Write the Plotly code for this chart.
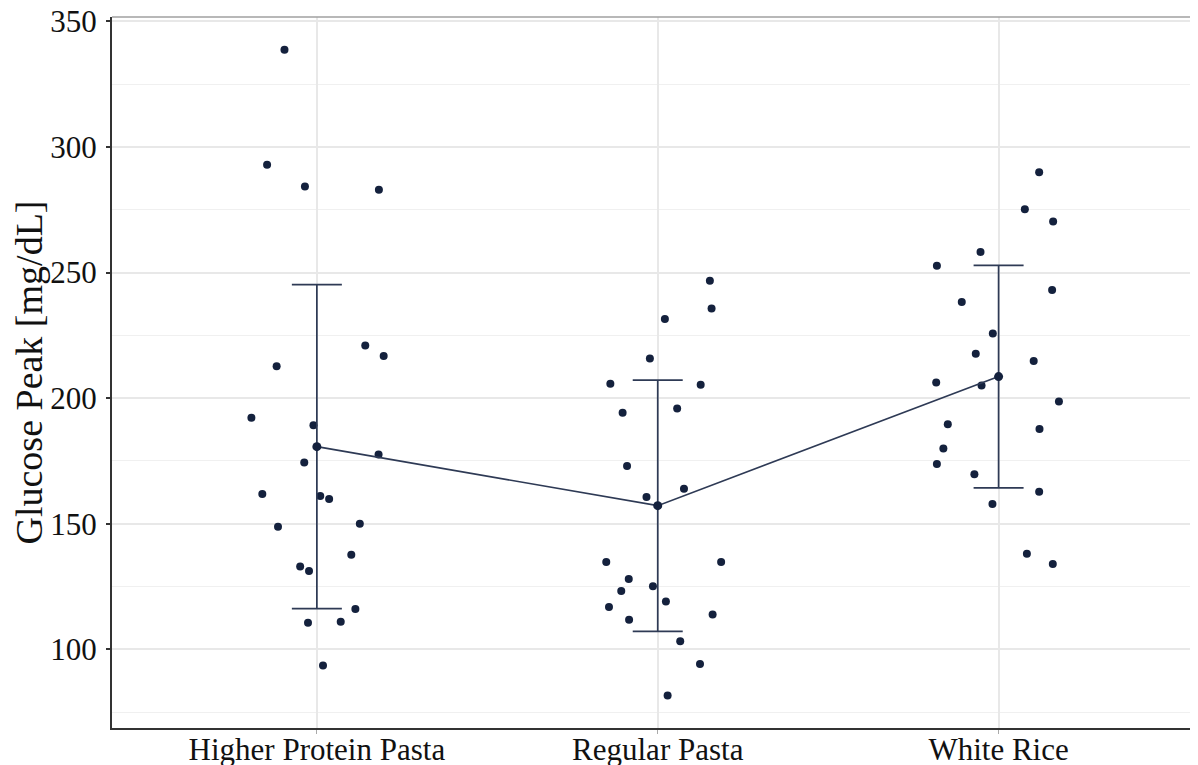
import plotly.graph_objects as go

categories = ["Higher Protein Pasta", "Regular Pasta", "White Rice"]

hpp_values = [338.7, 292.9, 284.3, 283.0, 221.0, 216.8, 212.7, 192.2, 189.2, 177.6, 174.4, 161.9,
              161.1, 159.9, 150.0, 148.8, 137.7, 133.0, 131.2, 116.1, 110.6, 111.0, 93.6]
hpp_jitter = [-0.095, -0.146, -0.035, 0.182, 0.142, 0.196, -0.118, -0.192, -0.010, 0.181, -0.037, -0.160,
              0.010, 0.036, 0.126, -0.114, 0.101, -0.049, -0.023, 0.113, -0.026, 0.070, 0.018]

rp_values = [246.8, 235.7, 231.5, 215.8, 205.7, 205.3, 194.2, 195.9, 173.0, 160.7, 163.9, 134.8,
             134.8, 128.0, 123.2, 125.1, 116.9, 119.1, 111.8, 113.9, 103.2, 94.2, 81.6]
rp_jitter = [0.153, 0.158, 0.021, -0.023, -0.139, 0.126, -0.103, 0.057, -0.090, -0.033, 0.077, -0.151,
             0.186, -0.085, -0.107, -0.014, -0.143, 0.024, -0.084, 0.161, 0.066, 0.124, 0.029]

wr_values = [289.9, 275.2, 270.3, 258.2, 252.7, 243.1, 238.3, 225.8, 217.7, 214.8, 206.2, 205.0,
             198.7, 189.6, 187.7, 180.0, 173.8, 169.7, 162.8, 157.9, 138.1, 134.0]
wr_jitter = [0.119, 0.077, 0.160, -0.053, -0.181, 0.157, -0.108, -0.017, -0.067, 0.103, -0.183, -0.050,
             0.177, -0.149, 0.120, -0.162, -0.181, -0.071, 0.119, -0.018, 0.083, 0.159]

means = [180.7, 157.2, 208.6]
sds = [64.5, 50.0, 44.3]

point_color = "#14213d"
line_color = "#2e3a55"
font_family = "Liberation Serif, Times New Roman, serif"

fig = go.Figure()

groups = [(hpp_values, hpp_jitter), (rp_values, rp_jitter), (wr_values, wr_jitter)]
for i, (vals, jit) in enumerate(groups):
    fig.add_trace(go.Scatter(
        x=[i + j for j in jit], y=vals, mode="markers",
        marker=dict(color=point_color, size=8),
        showlegend=False, hoverinfo="y"))

fig.add_trace(go.Scatter(
    x=list(range(len(categories))), y=means, mode="lines+markers",
    line=dict(color=line_color, width=1.7),
    marker=dict(color=point_color, size=9),
    error_y=dict(type="data", array=sds, visible=True, color=line_color,
                 thickness=1.7, width=25),
    showlegend=False))

fig.update_layout(
    width=1190, height=757,
    margin=dict(l=104, r=0, t=9, b=37),
    paper_bgcolor="white", plot_bgcolor="white",
    font=dict(family=font_family, color="#111111"),
    xaxis=dict(
        range=[-0.601, 2.585], tickvals=[0, 1, 2], ticktext=categories,
        showgrid=True, gridcolor="#e8e8e8", gridwidth=1.6,
        showline=True, linecolor="#333333", linewidth=2,
        ticks="outside", ticklen=4, tickcolor="#aaaaaa", tickwidth=1.2,
        ticklabelstandoff=-11, ticklabeloverflow="allow",
        tickfont=dict(size=31, family=font_family, color="#111111"),
        zeroline=False, automargin=False),
    yaxis=dict(
        range=[68.7, 351.75], tick0=100, dtick=50,
        showgrid=True, gridcolor="#e8e8e8", gridwidth=1.6,
        minor=dict(tick0=75, dtick=50, showgrid=True, gridcolor="#f0f0f0", gridwidth=1.2),
        showline=True, linecolor="#333333", linewidth=2,
        ticks="outside", ticklen=4, tickcolor="#333333", tickwidth=1.5,
        ticklabelstandoff=3, ticklabeloverflow="allow",
        tickfont=dict(size=31, family=font_family, color="#111111"),
        title=dict(text="Glucose Peak [mg/dL]", font=dict(size=38, family=font_family, color="#111111"),
                   standoff=8),
        zeroline=False, automargin=False),
    shapes=[dict(type="line", xref="paper", yref="paper", x0=0, x1=1, y0=1, y1=1,
                 line=dict(color="#a0a0a0", width=1.5))],
)

fig.write_html("out.html")
